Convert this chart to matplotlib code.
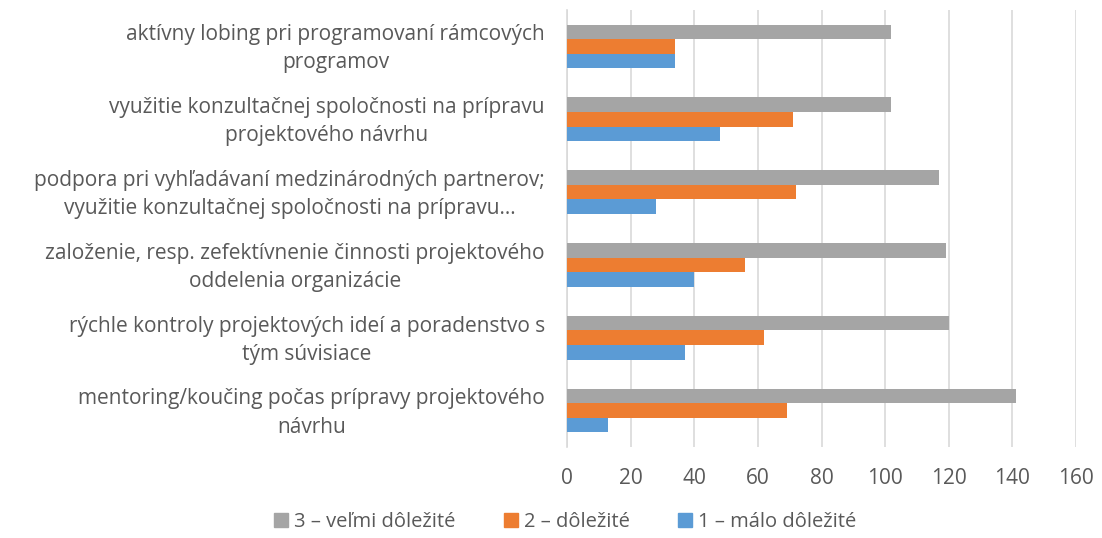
import numpy as np
import matplotlib
matplotlib.use('Agg')
import matplotlib.pyplot as plt
from matplotlib.patches import Patch

## data, bottom category first
categories = [
    'mentoring/koučing počas prípravy projektového\nnávrhu',
    'rýchle kontroly projektových ideí a poradenstvo s\ntým súvisiace',
    'založenie, resp. zefektívnenie činnosti projektového\noddelenia organizácie',
    'podpora pri vyhľadávaní medzinárodných partnerov;\nvyužitie konzultačnej spoločnosti na prípravu…',
    'využitie konzultačnej spoločnosti na prípravu\nprojektového návrhu',
    'aktívny lobing pri programovaní rámcových\nprogramov',
]
malo_dolezite = [13, 37, 40, 28, 48, 34]
dolezite = [69, 62, 56, 72, 71, 34]
velmi_dolezite = [141, 120, 119, 117, 102, 102]
series_names = ['1 – málo dôležité', '2 – dôležité', '3 – veľmi dôležité']
xticks = [0, 20, 40, 60, 80, 100, 120, 140, 160]

colors = ['#5B9BD5', '#ED7D31', '#A5A5A5']
text_color = '#595959'

plt.rcParams['font.family'] = ['Open Sans', 'DejaVu Sans']

fig = plt.figure(figsize=(11.02, 5.38), dpi=100)
ax = fig.add_axes([567/1102, 1 - 447/538, (1076 - 567)/1102, 437/538])

y = np.arange(len(categories))
h = 0.2
for i, (vals, c) in enumerate(zip([malo_dolezite, dolezite, velmi_dolezite], colors)):
    ax.barh(y + (i - 1) * h, vals, height=h, color=c, zorder=3)

ax.set_xlim(0, 160)
ax.set_ylim(-0.5, len(categories) - 0.5)
ax.set_xticks(xticks)
## labels sit slightly above the group centre, like the reference
ax.set_yticks(y + 0.05)
ax.set_yticklabels(categories, fontsize=15, color=text_color,
                   multialignment='center', linespacing=1.45)
ax.tick_params(axis='y', length=0, pad=16)
ax.tick_params(axis='x', length=0, pad=15, labelsize=15, labelcolor=text_color)
ax.grid(axis='x', color='#D9D9D9', linewidth=1.2, zorder=0)
for s in ['top', 'right', 'bottom']:
    ax.spines[s].set_visible(False)
ax.spines['left'].set_color('#D9D9D9')
ax.spines['left'].set_linewidth(1.2)

## legend, reversed order like the reference
handles = [Patch(color=c) for c in colors][::-1]
fig.legend(handles, series_names[::-1], loc='center', bbox_to_anchor=(565/1102, 1 - 522/538),
           ncol=3, frameon=False, fontsize=14.5, labelcolor=text_color,
           handlelength=0.7, handleheight=0.7, handletextpad=0.3, columnspacing=2.4)

fig.savefig('out.png', dpi=100)
